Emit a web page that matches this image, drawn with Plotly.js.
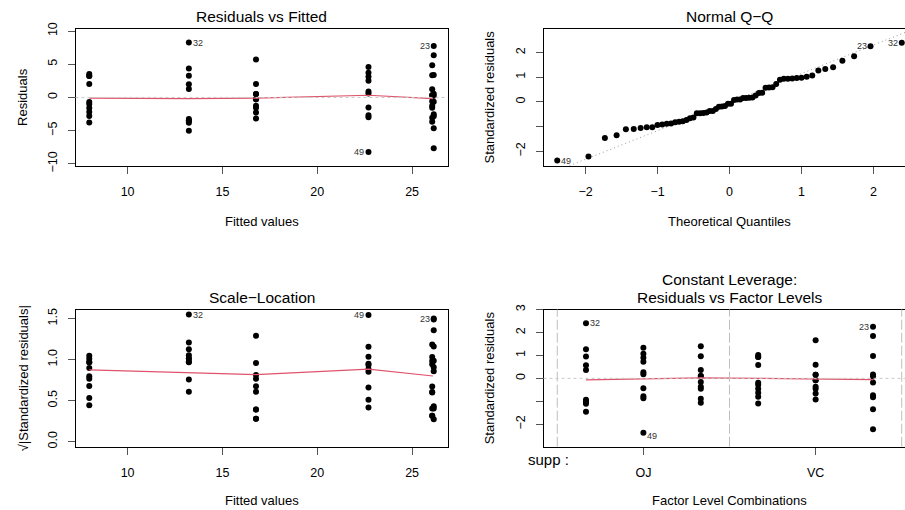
<!DOCTYPE html>
<html>
<head>
<meta charset="utf-8">
<script src="https://cdn.plot.ly/plotly-3.0.1.min.js"></script>
<style>
html,body{margin:0;padding:0;background:#fff;overflow:hidden;}
#chart{width:905px;height:510px;}
</style>
</head>
<body>
<div id="chart"></div>
<script>
// ---- Data (ToothGrowth two-way model: len ~ supp * factor(dose)) ----
const suppLevels = ['OJ', 'VC'];
const doseLevels = [0.5, 1, 2];
// groups in observation order (obs 1-10, 11-20, ..., 51-60)
const groupSupp = ['VC', 'VC', 'VC', 'OJ', 'OJ', 'OJ'];
const groupDose = [0.5, 1, 2, 0.5, 1, 2];
const groupFitted = [7.98, 16.77, 26.14, 13.23, 22.70, 26.06];

const residVC05 = [-3.78, 3.52, -0.68, -2.18, -1.58, 2.02, 3.22, 3.22, -2.78, -0.98];
const residVC1  = [-0.27, -0.27, -1.57, 0.53, 5.73, 0.53, -3.17, -2.27, 2.03, -1.27];
const residVC2  = [-2.54, -7.64, 7.76, -0.64, 0.26, 6.36, 0.56, -4.64, -2.84, 3.36];
const residOJ05 = [1.97, 8.27, 4.37, -3.53, 1.27, -3.23, -5.03, -3.83, 3.27, -3.53];
const residOJ1  = [-3.0, 0.6, 0.9, 3.7, -2.7, 2.5, 3.1, -1.5, -8.2, 4.6];
const residOJ2  = [-0.56, 0.34, -3.66, -1.56, -1.26, 4.84, 0.34, 1.24, 3.34, -3.06];

const stdVC05 = [-1.097, 1.022, -0.197, -0.633, -0.459, 0.586, 0.935, 0.935, -0.807, -0.284];
const stdVC1  = [-0.078, -0.078, -0.456, 0.154, 1.663, 0.154, -0.920, -0.659, 0.589, -0.369];
const stdVC2  = [-0.737, -2.218, 2.252, -0.186, 0.075, 1.846, 0.163, -1.347, -0.824, 0.975];
const stdOJ05 = [0.572, 2.401, 1.268, -1.025, 0.369, -0.938, -1.460, -1.112, 0.949, -1.025];
const stdOJ1  = [-0.871, 0.174, 0.261, 1.074, -0.784, 0.726, 0.900, -0.435, -2.380, 1.335];
const stdOJ2  = [-0.163, 0.099, -1.062, -0.453, -0.366, 1.405, 0.099, 0.360, 0.969, -0.888];

// theoretical normal quantiles for n = 60
const theoQuant = [-2.394, -1.960, -1.732, -1.569, -1.440, -1.331, -1.235, -1.150, -1.073, -1.001,
  -0.935, -0.872, -0.812, -0.755, -0.701, -0.649, -0.598, -0.549, -0.501, -0.454,
  -0.408, -0.363, -0.319, -0.275, -0.232, -0.189, -0.147, -0.105, -0.063, -0.021,
  0.021, 0.063, 0.105, 0.147, 0.189, 0.232, 0.275, 0.319, 0.363, 0.408,
  0.454, 0.501, 0.549, 0.598, 0.649, 0.701, 0.755, 0.812, 0.872, 0.935,
  1.001, 1.073, 1.150, 1.235, 1.331, 1.440, 1.569, 1.732, 1.960, 2.394];
const qqLineIntercept = -0.010;
const qqLineSlope = 1.157;

// smoother (lowess) curves
const smoothFittedX = [7.98, 13.23, 16.77, 22.70, 26.10];
const smoothResid = [-0.09, -0.19, -0.09, 0.33, -0.17];
const smoothScale = [0.875, 0.842, 0.818, 0.883, 0.80];
const smoothFactorX = [0, 1, 2, 3, 4, 5];
const smoothFactorY = [-0.07, -0.01, 0.02, 0.0, -0.04, -0.06];

const labelledObs = [23, 32, 49];

// ---- Build per-observation arrays ----
const residGroups = [residVC05, residVC1, residVC2, residOJ05, residOJ1, residOJ2];
const stdGroups = [stdVC05, stdVC1, stdVC2, stdOJ05, stdOJ1, stdOJ2];
const fitted = [], resid = [], stdres = [], facPos = [], obsId = [];
residGroups.forEach((g, gi) => {
  const fac = suppLevels.indexOf(groupSupp[gi]) * doseLevels.length + doseLevels.indexOf(groupDose[gi]);
  g.forEach((r, j) => {
    fitted.push(groupFitted[gi]);
    resid.push(r);
    stdres.push(stdGroups[gi][j]);
    facPos.push(fac);
    obsId.push(gi * 10 + j + 1);
  });
});
const sqrtStd = stdres.map(v => Math.sqrt(Math.abs(v)));
const order = stdres.map((v, i) => i).sort((a, b) => stdres[a] - stdres[b]);
const qqY = order.map(i => stdres[i]);
const qqId = order.map(i => obsId[i]);

// ---- Styling ----
const FONT = 'Liberation Sans, Arial, Helvetica, sans-serif';
const RED = '#DF536B';
const W = 905, H = 510;
const px = v => v / W, py = v => 1 - v / H;

const xr1 = [7.254, 26.866];
const dom1x = [px(75.5), px(447.5)];
const dom2x = [px(543.5), 1];
const domTop = [py(165.7), py(28.7)];
const domBot = [py(446.7), py(309.5)];
const frac2 = (905 - 543.5) / (915.5 - 543.5);
const xr2 = [-2.585, -2.585 + frac2 * 5.17];
const xr4 = [-0.74, -0.74 + frac2 * 6.48];

function axisBase(extra) {
  return Object.assign({
    showgrid: false, zeroline: false, showline: true, linecolor: '#000', linewidth: 1,
    ticks: 'outside', ticklen: 7, tickwidth: 1, tickcolor: '#555',
    tickfont: {family: FONT, size: 12.5, color: '#000'}, tickmode: 'array', fixedrange: true
  }, extra);
}

const mk = {color: '#000', size: 6};
const traces = [
  // Panel 1
  {x: fitted, y: resid, xaxis: 'x', yaxis: 'y', mode: 'markers', type: 'scatter', marker: mk, hoverinfo: 'skip'},
  {x: smoothFittedX, y: smoothResid, xaxis: 'x', yaxis: 'y', mode: 'lines', type: 'scatter', line: {color: RED, width: 1.2}},
  // Panel 2
  {x: [-3, 3], y: [qqLineIntercept - 3 * qqLineSlope, qqLineIntercept + 3 * qqLineSlope], xaxis: 'x2', yaxis: 'y2', mode: 'lines', type: 'scatter', line: {color: '#999', width: 1, dash: '1px,3px'}},
  {x: theoQuant, y: qqY, xaxis: 'x2', yaxis: 'y2', mode: 'markers', type: 'scatter', marker: mk, cliponaxis: false},
  // Panel 3
  {x: fitted, y: sqrtStd, xaxis: 'x3', yaxis: 'y3', mode: 'markers', type: 'scatter', marker: mk},
  {x: smoothFittedX, y: smoothScale, xaxis: 'x3', yaxis: 'y3', mode: 'lines', type: 'scatter', line: {color: RED, width: 1.2}},
  // Panel 4
  {x: facPos, y: stdres, xaxis: 'x4', yaxis: 'y4', mode: 'markers', type: 'scatter', marker: mk},
  {x: smoothFactorX, y: smoothFactorY, xaxis: 'x4', yaxis: 'y4', mode: 'lines', type: 'scatter', line: {color: RED, width: 1.2}}
];

const annotations = [];
function txt(text, x, y, size, opts) {
  annotations.push(Object.assign({text: text, x: px(x), y: py(y), xref: 'paper', yref: 'paper',
    showarrow: false, font: {family: FONT, size: size, color: '#000'}, xanchor: 'center', yanchor: 'middle'}, opts || {}));
}
// titles
txt('Residuals vs Fitted', 261.5, 16.7, 15.5);
txt('Normal Q\u2212Q', 729.5, 16.7, 15.5);
txt('Scale\u2212Location', 261.5, 297.7, 15.5);
txt('Constant Leverage:', 729.5, 279.3, 15.5);
txt('Residuals vs Factor Levels', 729.5, 297.7, 15.5);
// axis titles
txt('Fitted values', 261.5, 221.7, 13);
txt('Theoretical Quantiles', 729.5, 221.7, 13);
txt('Fitted values', 261.5, 500.7, 13);
txt('Factor Level Combinations', 729.5, 500.7, 13);
txt('Residuals', 21.7, 97.2, 13, {textangle: -90});
txt('Standardized residuals', 489.3, 97.2, 13, {textangle: -90});
txt('\u221A|Standardized residuals|', 23.3, 378, 13, {textangle: -90});
txt('Standardized residuals', 489.3, 378, 13, {textangle: -90});
txt('supp :', 571, 459, 15, {xanchor: 'right'});

// point id labels
function idLabel(xa, ya, x, y, id, side, dy) {
  annotations.push({text: String(id), x: x, y: y, xref: xa, yref: ya, showarrow: false,
    font: {family: FONT, size: 9, color: '#333'}, xanchor: side === 'right' ? 'left' : 'right',
    xshift: side === 'right' ? 2 : -2, yshift: dy || 0, yanchor: 'middle'});
}
labelledObs.forEach(id => {
  const i = obsId.indexOf(id);
  const mid1 = (xr1[0] + xr1[1]) / 2;
  idLabel('x', 'y', fitted[i], resid[i], id, fitted[i] < mid1 ? 'right' : 'left');
  idLabel('x3', 'y3', fitted[i], sqrtStd[i], id, fitted[i] < mid1 ? 'right' : 'left');
  const qi = qqId.indexOf(id);
  idLabel('x2', 'y2', theoQuant[qi], qqY[qi], id, theoQuant[qi] < 0 ? 'right' : 'left');
  idLabel('x4', 'y4', facPos[i], stdres[i], id, facPos[i] < 2.5 ? 'right' : 'left', stdres[i] < 0 ? -3 : 0);
});

const shapes = [
  {type: 'line', xref: 'x domain', yref: 'y', x0: 0, x1: 1, y0: 0, y1: 0, line: {color: '#c8c8c8', width: 1, dash: 'dot'}},
  {type: 'line', xref: 'x4 domain', yref: 'y4', x0: 0, x1: 1, y0: 0, y1: 0, line: {color: '#c8c8c8', width: 1, dash: 'dot'}}
];
for (let k = 0; k <= suppLevels.length; k++) {
  const b = k * doseLevels.length - 0.5;
  shapes.push({type: 'line', xref: 'x4', yref: 'y4 domain', x0: b, x1: b, y0: 0, y1: 1,
    line: {color: '#bebebe', width: 1, dash: '10px,3px'}});
}

const XS = 7, YS = 6;
const layout = {
  width: W, height: H, margin: {l: 0, r: 0, t: 0, b: 0},
  paper_bgcolor: '#fff', plot_bgcolor: '#fff', showlegend: false,
  font: {family: FONT, color: '#000'},
  xaxis: axisBase({domain: dom1x, anchor: 'y', range: xr1, mirror: true, ticklabelstandoff: XS, tickvals: [10, 15, 20, 25], ticktext: ['10', '15', '20', '25']}),
  yaxis: axisBase({domain: domTop, anchor: 'x', range: [-10.282, 10.352], mirror: true, tickangle: -90, ticklabelstandoff: YS,
    tickvals: [-10, -5, 0, 5, 10], ticktext: ['\u221210', '\u22125', '0', '5', '10']}),
  xaxis2: axisBase({domain: dom2x, anchor: 'y2', range: xr2, mirror: true, ticklabelstandoff: XS, tickvals: [-2, -1, 0, 1, 2], ticktext: ['\u22122', '\u22121', '0', '1', '2']}),
  yaxis2: axisBase({domain: domTop, anchor: 'x2', range: [-2.586, 2.966], mirror: false, tickangle: -90, ticklabelstandoff: YS,
    tickvals: [-2, -1, 0, 1, 2], ticktext: ['\u22122', '', '0', '1', '2']}),
  xaxis3: axisBase({domain: dom1x, anchor: 'y3', range: xr1, mirror: true, ticklabelstandoff: XS, tickvals: [10, 15, 20, 25], ticktext: ['10', '15', '20', '25']}),
  yaxis3: axisBase({domain: domBot, anchor: 'x3', range: [-0.062, 1.611], mirror: true, tickangle: -90, ticklabelstandoff: YS,
    tickvals: [0, 0.5, 1, 1.5], ticktext: ['0.0', '0.5', '1.0', '1.5']}),
  xaxis4: axisBase({domain: dom2x, anchor: 'y4', range: xr4, mirror: true, ticklabelstandoff: XS, tickvals: [1, 4], ticktext: suppLevels}),
  yaxis4: axisBase({domain: domBot, anchor: 'x4', range: [-2.984, 3.005], mirror: false, tickangle: -90, ticklabelstandoff: YS,
    tickvals: [-2, -1, 0, 1, 2, 3], ticktext: ['\u22122', '', '0', '1', '2', '3']}),
  annotations: annotations,
  shapes: shapes
};

Plotly.newPlot('chart', traces, layout, {displayModeBar: false, staticPlot: true});
</script>
</body>
</html>
